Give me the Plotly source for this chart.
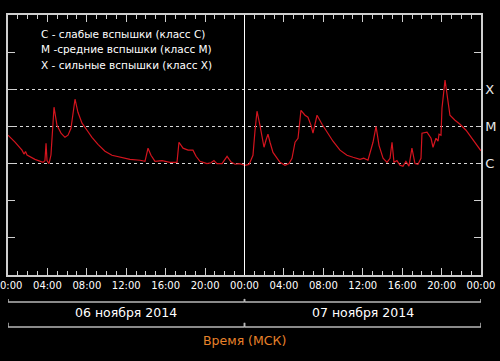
import plotly.graph_objects as go
import pandas as pd

# ---- data ----
HOURS = [0.00, 0.71, 1.42, 1.62, 1.78, 1.93, 2.74, 3.55, 3.75, 3.86, 3.96, 4.16, 4.36, 4.67, 4.97,
         5.38, 5.78, 6.09, 6.39, 6.80, 7.10, 7.51, 8.02, 8.52, 9.13, 9.84, 10.55, 11.37, 12.38,
         13.40, 13.90, 14.21, 14.51, 14.92, 15.63, 16.44, 17.15, 17.35, 17.76, 18.27, 18.77,
         19.08, 19.48, 20.19, 20.60, 20.90, 21.20, 21.72, 22.23, 22.64, 23.04, 23.50, 24.05,
         24.46, 24.86, 25.07, 25.27, 25.57, 25.98, 26.18, 26.38, 26.59, 26.89, 27.60, 28.11,
         28.52, 28.82, 29.13, 29.43, 29.73, 30.14, 30.44, 30.75, 30.95, 31.36, 31.87, 32.37,
         32.98, 33.69, 34.40, 35.01, 35.72, 36.10, 36.53, 37.04, 37.35, 37.65, 38.06, 38.46,
         38.77, 38.97, 39.17, 39.47, 39.78, 40.08, 40.38, 40.69, 40.99, 41.30, 41.60, 41.91,
         42.01, 42.52, 42.93, 43.13, 43.43, 43.64, 43.74, 43.94, 44.04, 44.35, 44.65, 44.85,
         45.36, 45.87, 46.48, 47.19, 47.90, 48.00]
FLUX = [5.8e-6, 3.8e-6, 2.3e-6, 1.8e-6, 2.1e-6, 1.7e-6, 1.3e-6, 1.08e-6, 1.2e-6, 3.5e-6, 1.2e-6,
        1.0e-6, 1.7e-6, 3.3e-5, 1.07e-5, 6.6e-6, 5.1e-6, 5.8e-6, 8.9e-6, 5.4e-5, 2.4e-5,
        1.22e-5, 7.9e-6, 5.1e-6, 3.3e-6, 2.15e-6, 1.67e-6, 1.48e-6, 1.3e-6, 1.23e-6, 1.15e-6,
        2.6e-6, 1.67e-6, 1.15e-6, 1.2e-6, 1.08e-6, 1.08e-6, 3.75e-6, 2.6e-6, 2.3e-6, 2.3e-6,
        1.57e-6, 1.15e-6, 1.0e-6, 1.05e-6, 1.2e-6, 1.0e-6, 1.0e-6, 1.57e-6, 1.1e-6, 0.96e-6,
        1.0e-6, 0.9e-6, 0.95e-6, 1.67e-6, 7.9e-6, 2.57e-5, 1.07e-5, 2.75e-6, 4.25e-6, 6.2e-6,
        3.75e-6, 2.0e-6, 1.08e-6, 0.9e-6, 1.0e-6, 1.39e-6, 3.75e-6, 4.8e-6, 2.7e-5, 2.0e-5,
        1.77e-5, 1.07e-5, 6.6e-6, 2.0e-5, 1.14e-5, 7.0e-6, 4.0e-6, 2.3e-6, 1.67e-6, 1.48e-6,
        1.3e-6, 1.4e-6, 1.23e-6, 3.75e-6, 1.0e-5, 3.1e-6, 1.39e-6, 1.08e-6, 1.39e-6, 3.75e-6,
        1.08e-6, 1.2e-6, 0.9e-6, 0.85e-6, 1.15e-6, 0.85e-6, 2.6e-6, 1.0e-6, 0.95e-6, 1.39e-6,
        6.6e-6, 7.0e-6, 4.8e-6, 2.75e-6, 4.8e-6, 4.0e-6, 6.2e-6, 5.8e-6, 3.1e-5, 1.76e-4,
        5.1e-5, 2.0e-5, 1.47e-5, 1.14e-5, 7.9e-6, 4.25e-6, 2.3e-6, 2.2e-6]

START = "2014-11-06"
DAY_STARTS = ["2014-11-06", "2014-11-07", "2014-11-08"]
DAY_LABELS = ["06 ноября 2014", "07 ноября 2014"]
DECADES = [1e-9, 1e-8, 1e-7, 1e-6, 1e-5, 1e-4, 1e-3, 1e-2]
CLASS_LEVELS = [1e-6, 1e-5, 1e-4]
CLASS_NAMES = ["C", "M", "X"]
OTHER_DECADES = [1e-8, 1e-7, 1e-3]
LEGEND_LINES = ["C - слабые вспышки (класс C)",
                "M -средние вспышки (класс M)",
                "X - сильные вспышки (класс X)"]
X_TITLE = "Время (МСК)"

times = pd.Timestamp(START) + pd.to_timedelta(HOURS, unit="h")

AX = "#cfcfcf"
FONT = "DejaVu Sans"

fig = go.Figure()
fig.add_trace(go.Scatter(x=times, y=FLUX, mode="lines",
                         line=dict(color="#d4141e", width=1.2),
                         hoverinfo="skip", showlegend=False))
fig.add_trace(go.Scatter(x=[times[0]], y=[FLUX[0]], yaxis="y2", mode="lines",
                         line=dict(width=0), hoverinfo="skip", showlegend=False))

fig.update_layout(
    width=500, height=361,
    margin=dict(l=8, r=19, t=15, b=86, autoexpand=False),
    paper_bgcolor="black", plot_bgcolor="black",
    font=dict(family=FONT, color="white"),
    xaxis=dict(
        type="date", range=[DAY_STARTS[0], DAY_STARTS[-1]],
        tickformat="%H:%M", dtick=4 * 3600 * 1000, tick0=DAY_STARTS[0],
        ticks="inside", ticklen=7, tickcolor=AX, tickwidth=1,
        minor=dict(dtick=3600 * 1000, ticks="inside", ticklen=4, tickcolor=AX, showgrid=False),
        showline=True, linecolor=AX, linewidth=1.5, mirror="ticks",
        showgrid=False, zeroline=False, ticklabeloverflow="allow", automargin=False,
        tickfont=dict(size=10, color="white", family=FONT),
    ),
    yaxis=dict(
        type="log", range=[-9, -2],
        tickvals=DECADES, showticklabels=False,
        ticks="inside", ticklen=7, tickcolor=AX,
        showline=True, linecolor=AX, linewidth=1.5,
        showgrid=False, zeroline=False, automargin=False,
    ),
    yaxis2=dict(
        type="log", range=[-9, -2], overlaying="y", side="right",
        tickvals=CLASS_LEVELS, ticktext=CLASS_NAMES,
        ticks="inside", ticklen=4, tickcolor=AX,
        minor=dict(tickvals=OTHER_DECADES, ticks="inside", ticklen=7, tickcolor=AX, showgrid=False),
        showline=True, linecolor=AX, linewidth=1.5,
        showgrid=True, gridcolor="#d8d8d8", griddash="dot", gridwidth=1,
        zeroline=False, ticklabeloverflow="allow", automargin=False,
        tickfont=dict(size=13, color="#e8e8e8", family=FONT),
    ),
)

shapes = []
# midnight separator
shapes.append(dict(type="line", xref="x", yref="paper", x0=DAY_STARTS[1], x1=DAY_STARTS[1],
                   y0=0, y1=1, line=dict(color="white", width=1)))
# day brackets
for i in range(len(DAY_LABELS)):
    a, b = DAY_STARTS[i], DAY_STARTS[i + 1]
    for yl, th in [(-0.104, 0.012), (-0.2, 0.016)]:
        shapes.append(dict(type="line", xref="x", yref="paper", x0=a, x1=b, y0=yl, y1=yl,
                           line=dict(color="#b8b8b8", width=1.5)))
        for xe in (a, b):
            shapes.append(dict(type="line", xref="x", yref="paper", x0=xe, x1=xe,
                               y0=yl, y1=yl + th, line=dict(color="#b8b8b8", width=1.5)))
fig.update_layout(shapes=shapes)

ann = []
for i, lab in enumerate(DAY_LABELS):
    mid = pd.Timestamp(DAY_STARTS[i]) + (pd.Timestamp(DAY_STARTS[i + 1]) - pd.Timestamp(DAY_STARTS[i])) / 2
    ann.append(dict(x=mid, y=-0.146, xref="x", yref="paper", text=lab, showarrow=False,
                    xanchor="center", yanchor="middle",
                    font=dict(size=12.5, color="white", family=FONT)))
ann.append(dict(x=DAY_STARTS[1], y=-0.25, xref="x", yref="paper", text=X_TITLE, showarrow=False,
                xanchor="center", yanchor="middle",
                font=dict(size=12.5, color="#e8822a", family=FONT)))
for i, t in enumerate(LEGEND_LINES):
    ann.append(dict(x=0.0655, y=0.927 - 0.059 * i, xref="paper", yref="paper", text=t,
                    showarrow=False, xanchor="left", yanchor="middle",
                    font=dict(size=10.5, color="white", family=FONT)))
fig.update_layout(annotations=ann)

fig.write_html("out.html", config={"displayModeBar": False},
               post_script="document.body.style.margin='0';document.body.style.background='black';")
